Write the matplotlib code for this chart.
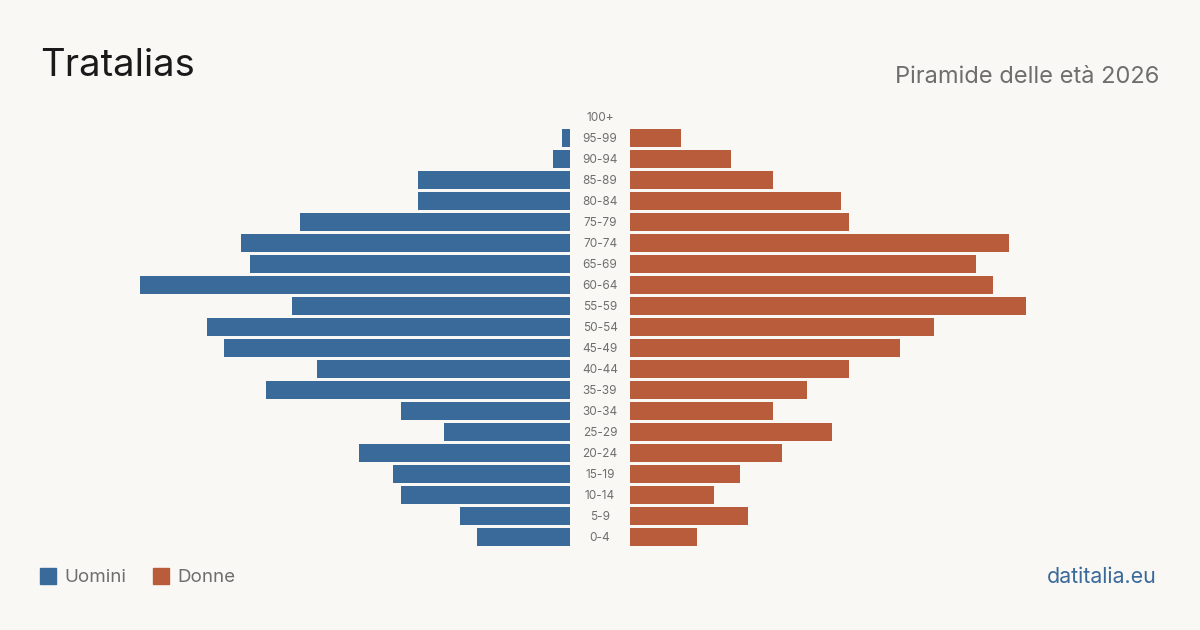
import matplotlib.pyplot as plt
import numpy as np

# dati: popolazione per classe di età (dall'alto verso il basso)
classi = ["100+", "95-99", "90-94", "85-89", "80-84", "75-79", "70-74", "65-69",
          "60-64", "55-59", "50-54", "45-49", "40-44", "35-39", "30-34", "25-29",
          "20-24", "15-19", "10-14", "5-9", "0-4"]
uomini = [0, 1, 2, 18, 18, 32, 39, 38, 51, 33, 43, 41, 30, 36, 20, 15, 25, 21, 20, 13, 11]
donne = [0, 6, 12, 17, 25, 26, 45, 41, 43, 47, 36, 32, 26, 21, 17, 24, 18, 13, 10, 14, 8]

BG = "#f9f8f4"
BLU = "#3a6a9a"
ARANCIO = "#b85c3c"
GRIGIO = "#6e6e6e"

plt.rcParams['font.family'] = ['Inter', 'DejaVu Sans']

fig = plt.figure(figsize=(12, 6.3), dpi=100, facecolor=BG)
W, H = 1200, 630

y = np.arange(len(classi))
top, bot = 106.5, 547.5
xmax = 51

# asse sinistro (uomini)
axL = fig.add_axes([140 / W, 1 - bot / H, 430 / W, (bot - top) / H])
axL.barh(y, uomini, height=0.81, color=BLU)
axL.set_xlim(xmax, 0)
axL.set_ylim(len(classi) - 0.5, -0.5)

# asse destro (donne)
axR = fig.add_axes([630 / W, 1 - bot / H, 430 / W, (bot - top) / H])
axR.barh(y, donne, height=0.81, color=ARANCIO)
axR.set_xlim(0, xmax)
axR.set_ylim(len(classi) - 0.5, -0.5)

for ax in (axL, axR):
    ax.set_facecolor("none")
    ax.axis("off")

# etichette centrali
for i, c in enumerate(classi):
    fig.text(600 / W, 1 - (118 + 21 * i) / H, c, ha="center", va="center",
             fontsize=8.5, color=GRIGIO)

fig.text(40 / W, 1 - 66 / H, "Tratalias", fontsize=27.5, color="#1a1a1a",
         ha="left", va="center")
fig.text(1159 / W, 1 - 77 / H, "Piramide delle età 2026", fontsize=17,
         color=GRIGIO, ha="right", va="center")

# legenda
fig.patches.append(plt.Rectangle((40 / W, 1 - 584 / H), 16 / W, 16 / H,
                                 transform=fig.transFigure, color=BLU))
fig.text(64 / W, 1 - 577 / H, "Uomini", fontsize=13.5, color=GRIGIO,
         ha="left", va="center")
fig.patches.append(plt.Rectangle((153 / W, 1 - 584 / H), 16 / W, 16 / H,
                                 transform=fig.transFigure, color=ARANCIO))
fig.text(177 / W, 1 - 577 / H, "Donne", fontsize=13.5, color=GRIGIO,
         ha="left", va="center")

fig.text(1157 / W, 1 - 577 / H, "datitalia.eu", fontsize=15.4, color=BLU,
         ha="right", va="center")

fig.savefig("out.png", dpi=100, facecolor=BG)
